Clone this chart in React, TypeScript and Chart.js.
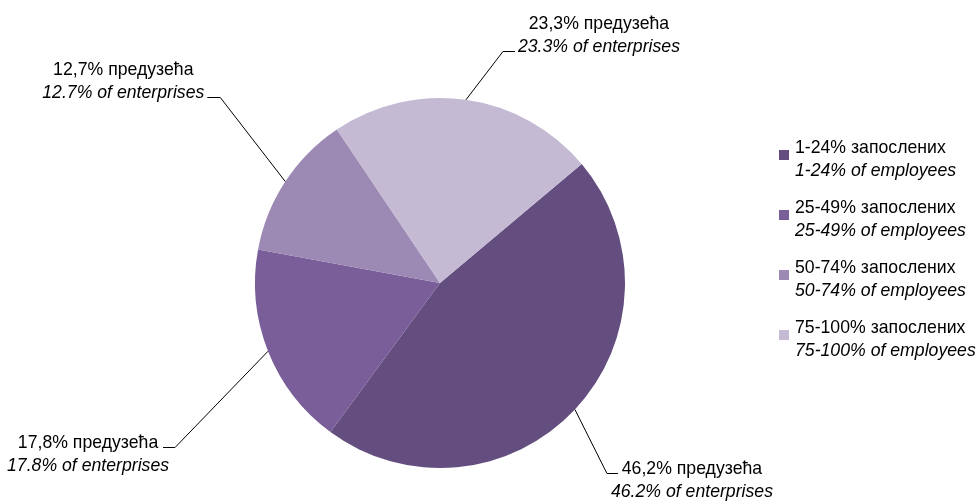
import React, { useEffect, useRef } from "react";
import { Chart, registerables } from "chart.js";

Chart.register(...registerables);

// ---- Data ----
const categoriesSr = ["1-24% запослених", "25-49% запослених", "50-74% запослених", "75-100% запослених"];
const categoriesEn = ["1-24% of employees", "25-49% of employees", "50-74% of employees", "75-100% of employees"];
const shares = [46.2, 17.8, 12.7, 23.3];
const labelsSr = ["46,2% предузећа", "17,8% предузећа", "12,7% предузећа", "23,3% предузећа"];
const labelsEn = ["46.2% of enterprises", "17.8% of enterprises", "12.7% of enterprises", "23.3% of enterprises"];
const sliceColors = ["#644E7F", "#7A5E99", "#9C89B4", "#C4BAD4"];

// ---- Label layout (styling only) ----
// elbow offset from slice edge point, hook length, text centre offset from hook end, which line's baseline sits on the hook
const labelLayout = [
  { ex: 32, ey: 63, hook: 11, tx: 74, attach: 0 },
  { ex: -93, ey: 96, hook: -12, tx: -75, attach: 0 },
  { ex: -65, ey: -85, hook: -13, tx: -84, attach: 1 },
  { ex: 37, ey: -49, hook: 12, tx: 84, attach: 1 },
];

const FONT_FAMILY = "'Liberation Sans Narrow', 'Arial Narrow', 'Liberation Sans', Arial, sans-serif";
const FONT_SIZE = 19;
const X_SCALE = 0.93;
const LINE_GAP = 23;

function drawText(ctx: CanvasRenderingContext2D, text: string, x: number, y: number, italic: boolean, align: CanvasTextAlign) {
  ctx.save();
  ctx.font = `${italic ? "italic " : ""}${FONT_SIZE}px ${FONT_FAMILY}`;
  ctx.textAlign = align;
  ctx.textBaseline = "alphabetic";
  ctx.fillStyle = "#000000";
  ctx.translate(x, y);
  ctx.scale(X_SCALE, 1);
  ctx.fillText(text, 0, 0);
  ctx.restore();
}

const labelPlugin = {
  id: "customLabels",
  afterDatasetsDraw(chart: any) {
    const ctx = chart.ctx as CanvasRenderingContext2D;
    const meta = chart.getDatasetMeta(0);
    ctx.save();
    meta.data.forEach((arc: any, i: number) => {
      const p = arc.getProps(["x", "y", "startAngle", "endAngle", "outerRadius"], true);
      const mid = (p.startAngle + p.endAngle) / 2;
      const sx = p.x + Math.cos(mid) * p.outerRadius;
      const sy = p.y + Math.sin(mid) * p.outerRadius;
      const L = labelLayout[i];
      const exx = sx + L.ex;
      const eyy = Math.round(sy + L.ey) + 0.5;
      const hx = exx + L.hook;
      ctx.strokeStyle = "#000000";
      ctx.lineWidth = 1;
      ctx.beginPath();
      ctx.moveTo(sx, sy);
      ctx.lineTo(exx, eyy);
      ctx.lineTo(hx, eyy);
      ctx.stroke();
      const cx = hx + L.tx;
      const b1 = L.attach === 0 ? eyy : eyy - LINE_GAP;
      drawText(ctx, labelsSr[i], cx, b1, false, "center");
      drawText(ctx, labelsEn[i], cx, b1 + LINE_GAP, true, "center");
    });

    // legend
    const lx = 779;
    const firstBaseline = 153;
    const step = 60;
    categoriesSr.forEach((name, i) => {
      const b = firstBaseline + i * step;
      ctx.fillStyle = sliceColors[i];
      ctx.fillRect(lx, b - 3, 10, 10);
      drawText(ctx, name, lx + 16, b, false, "left");
      drawText(ctx, categoriesEn[i], lx + 16, b + LINE_GAP, true, "left");
    });
    ctx.restore();
  },
};

export default function App() {
  const canvasRef = useRef<HTMLCanvasElement | null>(null);

  useEffect(() => {
    document.body.style.margin = "0";
    const canvas = canvasRef.current;
    if (!canvas) return;
    const chart = new Chart(canvas, {
      type: "pie",
      data: {
        labels: categoriesSr,
        datasets: [
          {
            data: shares,
            backgroundColor: sliceColors,
            borderWidth: 0,
          },
        ],
      },
      options: {
        responsive: false,
        animation: false,
        devicePixelRatio: 1,
        rotation: 50,
        layout: { padding: { left: 255, right: 353, top: 98, bottom: 36 } },
        plugins: {
          legend: { display: false },
          tooltip: { enabled: false },
        },
      },
      plugins: [labelPlugin],
    });
    return () => chart.destroy();
  }, []);

  return (
    <div style={{ width: 978, height: 504, background: "#ffffff" }}>
      <canvas ref={canvasRef} width={978} height={504} style={{ display: "block" }} />
    </div>
  );
}
